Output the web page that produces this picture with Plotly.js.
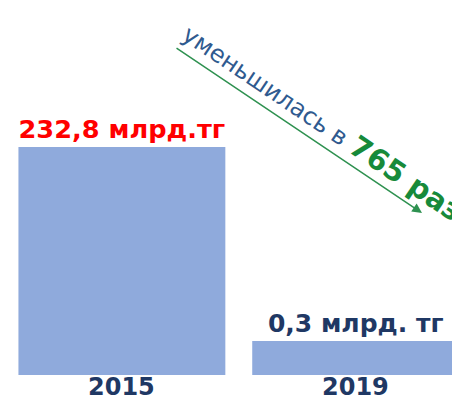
<!DOCTYPE html>
<html>
<head>
<meta charset="utf-8">
<script src="https://cdn.plot.ly/plotly-3.0.1.min.js"></script>
<style>html,body{margin:0;padding:0;background:#fff;}#chart{width:452px;height:401px;}</style>
</head>
<body>
<div id="chart"></div>
<script>
// Data (bar heights as drawn in the picture; the chart is not to scale)
const years = ['2015', '2019'];
const barHeights = [232.8, 34.7];
const valueLabels = ['232,8 млрд.тг', '0,3 млрд. тг'];
const labelColors = ['#ff0000', '#1f3864'];
const ratioText = 'уменьшилась в ';
const ratioValue = '765 раз';

const trace = {
  type: 'bar',
  x: [0, 1],
  y: barHeights,
  width: 0.885,
  marker: {color: '#8faadc'},
  text: valueLabels.map(t => '<b>' + t + '</b>'),
  textposition: 'outside',
  cliponaxis: false,
  textfont: {family: 'DejaVu Sans', size: [26.5, 25], color: labelColors},
  hoverinfo: 'none'
};

const yearAnnotations = years.map((y, i) => ({
  xref: 'x', yref: 'paper', x: i, y: (375 - 387) / 375,
  xanchor: 'center', yanchor: 'middle', showarrow: false,
  text: '<b>' + y + '</b>',
  font: {family: 'DejaVu Sans', size: 24, color: '#1f3864'}
}));

const layout = {
  width: 452, height: 401,
  margin: {l: 4.5, r: 0, t: 0, b: 26, pad: 0},
  paper_bgcolor: '#ffffff', plot_bgcolor: '#ffffff',
  showlegend: false,
  xaxis: {
    range: [-0.5, 1.412],
    showticklabels: false,
    showgrid: false, zeroline: false, showline: false, ticks: ''
  },
  yaxis: {range: [0, 383], visible: false, fixedrange: true},
  annotations: yearAnnotations.concat([
    {
      xref: 'paper', yref: 'paper',
      x: (422 - 4.5) / 447.5, y: (375 - 213) / 375,
      ax: 175 - 422, ay: 47 - 213, axref: 'pixel', ayref: 'pixel',
      showarrow: true, arrowhead: 2, arrowsize: 1.3, arrowwidth: 1.5,
      arrowcolor: '#2e9150', text: ''
    },
    {
      xref: 'paper', yref: 'paper',
      x: (322 - 4.5) / 447.5, y: (375 - 122) / 375,
      xanchor: 'center', yanchor: 'middle',
      textangle: 34, showarrow: false,
      font: {family: 'DejaVu Sans', size: 24, color: '#2f5a8f'},
      text: ratioText + '<span style="color:#178a3a;font-size:29px"><b>' + ratioValue + '</b></span>'
    }
  ])
};

Plotly.newPlot('chart', [trace], layout, {staticPlot: true, displayModeBar: false});
</script>
</body>
</html>
